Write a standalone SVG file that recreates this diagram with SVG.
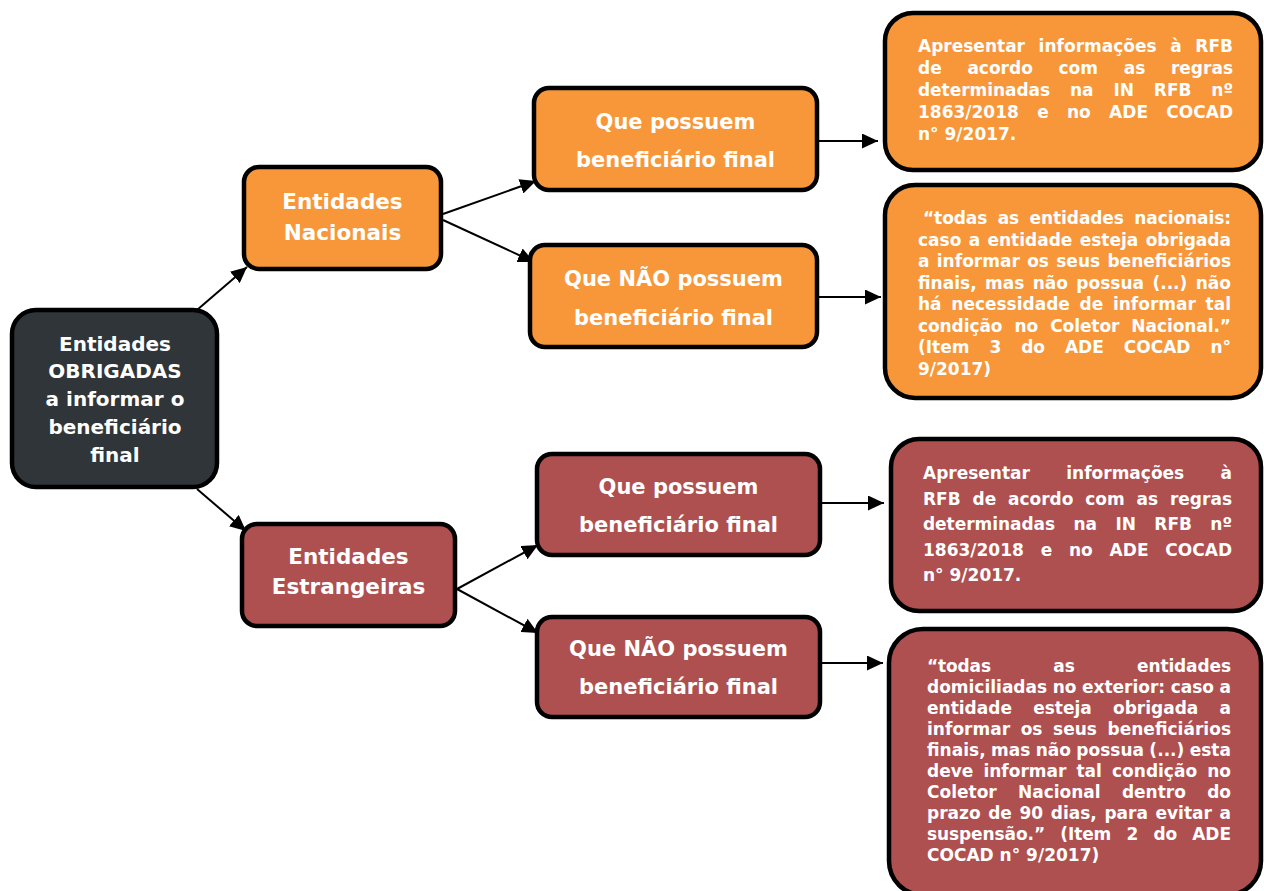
<svg xmlns="http://www.w3.org/2000/svg" width="1264" height="891" viewBox="0 0 1264 891">
<style>
.box{stroke:#000;stroke-width:4.5}
.or{fill:#F7973A}
.rd{fill:#AE4F50}
.dk{fill:#2F3538}
.t{font-family:"DejaVu Sans","Liberation Sans",sans-serif;font-weight:bold;fill:#fff}
.c{text-anchor:middle}
.mid{font-size:21px}
.ent{font-size:21.5px}
.root{font-size:20px}
.p{font-size:17px}
.conn{stroke:#000;stroke-width:2;fill:none;marker-end:url(#ah)}
</style>
<defs>
<marker id="ah" markerUnits="userSpaceOnUse" markerWidth="17" markerHeight="15" refX="16" refY="7.5" orient="auto">
<path d="M0,0 L16,7.5 L0,15 z" fill="#000"/>
</marker>
</defs>
<rect width="1264" height="891" fill="#fff"/>

<g id="connectors">
<line class="conn" x1="197" y1="310" x2="247" y2="267"/>
<line class="conn" x1="197" y1="489" x2="246" y2="531"/>
<line class="conn" x1="443" y1="214" x2="536" y2="181"/>
<line class="conn" x1="443" y1="220" x2="534" y2="262"/>
<line class="conn" x1="457" y1="589" x2="538" y2="545"/>
<line class="conn" x1="457" y1="589" x2="538" y2="633"/>
<line class="conn" x1="819" y1="141" x2="878" y2="141"/>
<line class="conn" x1="819" y1="297" x2="881" y2="297"/>
<line class="conn" x1="822" y1="503" x2="884" y2="503"/>
<line class="conn" x1="822" y1="663" x2="883" y2="663"/>
</g>

<g id="root">
<rect class="box dk" x="12" y="310" width="205" height="177" rx="24"/>
<text class="t c root"><tspan x="115" y="351">Entidades</tspan><tspan x="115" y="378">OBRIGADAS</tspan><tspan x="115" y="406">a informar o</tspan><tspan x="115" y="434">beneficiário</tspan><tspan x="115" y="462">final</tspan></text>
</g>

<g id="nacionais">
<rect class="box or" x="244" y="167" width="197" height="102" rx="15"/>
<text class="t c ent"><tspan x="342.5" y="208.5">Entidades</tspan><tspan x="342.5" y="239.5">Nacionais</tspan></text>
</g>

<g id="estrangeiras">
<rect class="box rd" x="242" y="524" width="213" height="102" rx="15"/>
<text class="t c ent"><tspan x="348.5" y="563.5">Entidades</tspan><tspan x="348.5" y="594">Estrangeiras</tspan></text>
</g>

<g id="nac-possuem">
<rect class="box or" x="534" y="88" width="283" height="102" rx="15"/>
<text class="t c mid"><tspan x="675.5" y="129">Que possuem</tspan><tspan x="675.5" y="167">beneficiário final</tspan></text>
</g>

<g id="nac-nao-possuem">
<rect class="box or" x="530" y="245" width="287" height="102" rx="15"/>
<text class="t c mid"><tspan x="673.5" y="286">Que NÃO possuem</tspan><tspan x="673.5" y="325">beneficiário final</tspan></text>
</g>

<g id="est-possuem">
<rect class="box rd" x="537" y="454" width="283" height="101" rx="15"/>
<text class="t c mid"><tspan x="678.5" y="494">Que possuem</tspan><tspan x="678.5" y="532">beneficiário final</tspan></text>
</g>

<g id="est-nao-possuem">
<rect class="box rd" x="537" y="617" width="283" height="100" rx="15"/>
<text class="t c mid"><tspan x="678.5" y="656">Que NÃO possuem</tspan><tspan x="678.5" y="694">beneficiário final</tspan></text>
</g>

<g id="nac-possuem-info">
<rect class="box or" x="885" y="13" width="376" height="157" rx="28"/>
<text class="t p" x="918" y="51.5" word-spacing="7.7" textLength="315" lengthAdjust="spacing">Apresentar informações à RFB</text>
<text class="t p" x="918" y="73.5" word-spacing="19.8" textLength="315" lengthAdjust="spacing">de acordo com as regras</text>
<text class="t p" x="918" y="96" word-spacing="14.1" textLength="315" lengthAdjust="spacing">determinadas na IN RFB nº</text>
<text class="t p" x="918" y="118" word-spacing="12.4" textLength="315" lengthAdjust="spacing">1863/2018 e no ADE COCAD</text>
<text class="t p" x="918" y="140">n° 9/2017.</text>
</g>

<g id="nac-nao-possuem-info">
<rect class="box or" x="885" y="185" width="376" height="213" rx="30"/>
<text class="t p" x="923" y="224" word-spacing="4.6" textLength="308" lengthAdjust="spacing">“todas as entidades nacionais:</text>
<text class="t p" x="918" y="245.5" word-spacing="1.4" textLength="313" lengthAdjust="spacing">caso a entidade esteja obrigada</text>
<text class="t p" x="918" y="267" word-spacing="1.3" textLength="313" lengthAdjust="spacing">a informar os seus beneficiários</text>
<text class="t p" x="918" y="288.5" word-spacing="2.4" textLength="313" lengthAdjust="spacing">finais, mas não possua (...) não</text>
<text class="t p" x="918" y="310" word-spacing="3.8" textLength="313" lengthAdjust="spacing">há necessidade de informar tal</text>
<text class="t p" x="918" y="331.5" word-spacing="6.2" textLength="313" lengthAdjust="spacing">condição no Coletor Nacional.”</text>
<text class="t p" x="918" y="353" word-spacing="14" textLength="313" lengthAdjust="spacing">(Item 3 do ADE COCAD n°</text>
<text class="t p" x="918" y="374.5">9/2017)</text>
</g>

<g id="est-possuem-info">
<rect class="box rd" x="891" y="439" width="370" height="172" rx="28"/>
<text class="t p" x="923" y="479" word-spacing="30.4" textLength="309" lengthAdjust="spacing">Apresentar informações à</text>
<text class="t p" x="923" y="505" word-spacing="5.9" textLength="309" lengthAdjust="spacing">RFB de acordo com as regras</text>
<text class="t p" x="923" y="530" word-spacing="12.6" textLength="309" lengthAdjust="spacing">determinadas na IN RFB nº</text>
<text class="t p" x="923" y="556" word-spacing="10.9" textLength="309" lengthAdjust="spacing">1863/2018 e no ADE COCAD</text>
<text class="t p" x="923" y="581">n° 9/2017.</text>
</g>

<g id="est-nao-possuem-info">
<rect class="box rd" x="889" y="629" width="372" height="266" rx="34"/>
<text class="t p" x="927" y="672" word-spacing="56.6" textLength="304" lengthAdjust="spacing">“todas as entidades</text>
<text class="t p" x="927" y="693" word-spacing="-0.4" textLength="304" lengthAdjust="spacing">domiciliadas no exterior: caso a</text>
<text class="t p" x="927" y="714" word-spacing="15.3" textLength="304" lengthAdjust="spacing">entidade esteja obrigada a</text>
<text class="t p" x="927" y="735" word-spacing="4.6" textLength="304" lengthAdjust="spacing">informar os seus beneficiários</text>
<text class="t p" x="927" y="756" word-spacing="-0.6" textLength="304" lengthAdjust="spacing">finais, mas não possua (...) esta</text>
<text class="t p" x="927" y="777" word-spacing="4.2" textLength="304" lengthAdjust="spacing">deve informar tal condição no</text>
<text class="t p" x="927" y="798" word-spacing="15.3" textLength="304" lengthAdjust="spacing">Coletor Nacional dentro do</text>
<text class="t p" x="927" y="819" word-spacing="1.7" textLength="304" lengthAdjust="spacing">prazo de 90 dias, para evitar a</text>
<text class="t p" x="927" y="840" word-spacing="9.4" textLength="304" lengthAdjust="spacing">suspensão.” (Item 2 do ADE</text>
<text class="t p" x="927" y="861">COCAD n° 9/2017)</text>
</g>
</svg>
